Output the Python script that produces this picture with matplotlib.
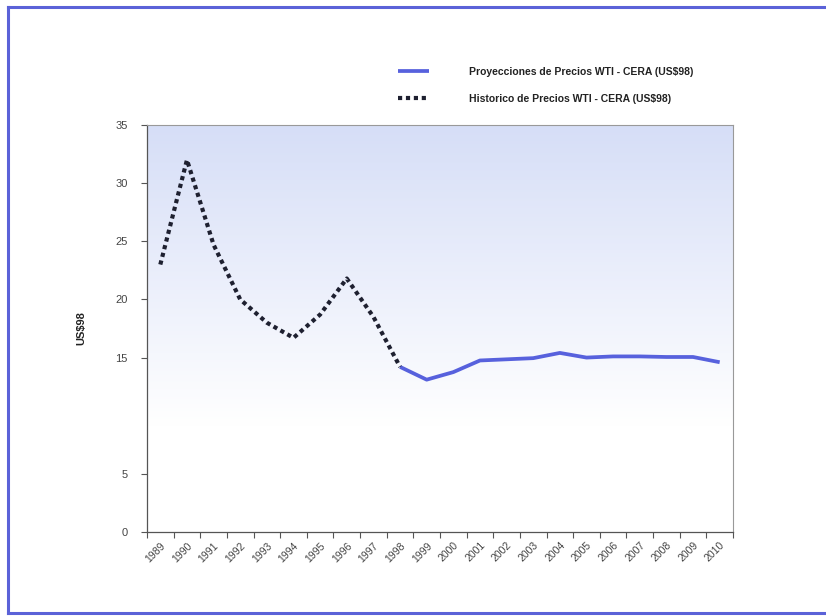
import numpy as np
import matplotlib
matplotlib.use("Agg")
import matplotlib.pyplot as plt
from matplotlib.lines import Line2D

years = [str(y) for y in range(1989, 2011)]
hist_years = [str(y) for y in range(1989, 1999)]
hist_values = [23.0, 32.0, 24.7, 20.0, 18.0, 16.7, 18.7, 21.8, 18.5, 14.2]
proj_years = [str(y) for y in range(1998, 2011)]
proj_values = [14.2, 13.1, 13.75, 14.75, 14.85, 14.95, 15.4, 15.0, 15.1, 15.1, 15.05, 15.05, 14.6]
yticks = [0, 5, 15, 20, 25, 30, 35]

plt.rcParams['font.family'] = ['Liberation Sans', 'DejaVu Sans']

fig = plt.figure(figsize=(8.26, 6.16), dpi=100)
ax = fig.add_axes([147/826, 1-532/616, (733-147)/826, (532-125)/616])

idx = {y: i for i, y in enumerate(years)}
hx = [idx[y] for y in hist_years]
px = [idx[y] for y in proj_years]

# gradient background (blue at top fading to white)
grad = np.linspace(0, 1, 256).reshape(-1, 1)
top = np.array([214, 222, 247]) / 255
bot = np.array([255, 255, 255]) / 255
t = np.clip(grad * 1.35, 0, 1)
img = top * (1 - t)[..., None] + bot * t[..., None]
img = img.reshape(256, 1, 3)
ax.imshow(img, extent=[0, 1, 0, 1], origin='upper', transform=ax.transAxes,
          aspect='auto', zorder=0)

lp, = ax.plot(px, proj_values, color='#5761dd', lw=2.7, solid_capstyle='butt', zorder=3,
              label='Proyecciones de Precios WTI - CERA (US\\$98)')
lh, = ax.plot(hx, hist_values, color='#1e2030', lw=3.0, linestyle=(0, (1, 0.9)),
              dash_capstyle='butt', zorder=4,
              label='Historico de Precios WTI - CERA (US\\$98)')

ax.set_xlim(-0.5, len(years) - 0.5)
ax.set_ylim(0, 35)
ax.set_yticks(yticks)
ax.set_yticklabels([str(v) for v in yticks], fontsize=8, color='#444444')
ax.set_xticks(np.arange(-0.5, len(years), 1.0))
ax.set_xticklabels([])
ax.set_xticks(np.arange(len(years)), minor=True)
ax.set_xticklabels(years, minor=True, rotation=45, ha='right', rotation_mode='anchor',
                   fontsize=7.5, color='#444444')
ax.tick_params(axis='x', which='minor', length=0, pad=6)
ax.tick_params(axis='x', which='major', length=4, color='#555555', direction='out')
ax.tick_params(axis='y', length=4, color='#555555', direction='out', pad=10)

for s in ['top', 'right']:
    ax.spines[s].set_color('#999999')
    ax.spines[s].set_linewidth(0.8)
for s in ['left', 'bottom']:
    ax.spines[s].set_color('#555555')
    ax.spines[s].set_linewidth(0.9)

ax.set_ylabel('US\\$98', fontsize=8, fontweight='bold', color='#222222', labelpad=21)

leg = ax.legend(handles=[lp, lh], loc='upper left', bbox_to_anchor=(398/826, 1-67/616),
                bbox_transform=fig.transFigure, frameon=False,
                prop={'size': 7.5, 'weight': 'bold'}, handlelength=3.0,
                handletextpad=3.8, labelspacing=1.6, borderaxespad=0, borderpad=0)
for txt in leg.get_texts():
    txt.set_color('#222222')

# page frame
fc = '#5b62d8'
fig.add_artist(Line2D([8/826, 1.0], [1-7/616, 1-7/616], transform=fig.transFigure, color=fc, lw=2.2))
fig.add_artist(Line2D([8/826, 8/826], [1-7/616, 1-613/616], transform=fig.transFigure, color=fc, lw=2.2))
fig.add_artist(Line2D([8/826, 1.0], [1-613/616, 1-613/616], transform=fig.transFigure, color=fc, lw=2.2))

fig.savefig('out.png', dpi=100)
